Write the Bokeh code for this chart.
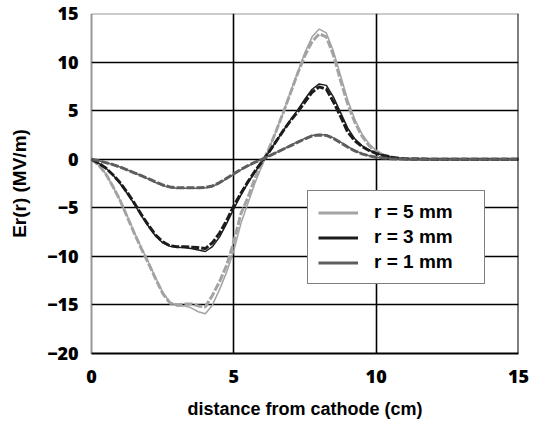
from bokeh.plotting import figure
from bokeh.models import Range1d, FixedTicker, Span, Legend, LegendItem
from bokeh.embed import file_html
from bokeh.resources import INLINE

x = [0, 0.25, 0.5, 0.75, 1.0, 1.25, 1.5, 1.75, 2.0, 2.25, 2.5, 2.75, 3.0, 3.25, 3.5, 3.75,
     4.0, 4.25, 4.5, 4.75, 5.0, 5.25, 5.5, 5.75, 6.0, 6.25, 6.5, 6.75, 7.0, 7.25, 7.5, 7.75,
     8.0, 8.25, 8.5, 8.75, 9.0, 9.25, 9.5, 9.75, 10.0, 10.25, 10.5, 10.75, 11.0, 12.0, 13.0, 14.0, 15.0]

# r = 5 mm
r5_sim = [0, -0.6, -1.5, -2.8, -4.2, -5.9, -7.6, -9.2, -10.7, -12.3, -13.8, -14.8, -15.0, -14.9, -14.9, -15.1,
          -15.2, -14.0, -12.6, -10.9, -8.5, -5.6, -3.9, -1.9, -0.4, 1.2, 3.0, 4.9, 6.9, 8.9, 10.7, 12.1,
          12.9, 12.6, 10.7, 8.1, 5.7, 3.8, 2.4, 1.4, 0.8, 0.45, 0.25, 0.12, 0.05, 0, 0, 0, 0]
r5_thr = [0, -0.6, -1.5, -2.8, -4.2, -5.8, -7.5, -9.1, -10.6, -12.2, -13.7, -14.7, -15.1, -15.1, -15.3, -15.7,
          -15.9, -15.0, -13.4, -11.6, -9.4, -6.6, -4.5, -2.4, -0.6, 1.2, 3.0, 4.9, 7.0, 9.0, 11.0, 12.6,
          13.4, 13.0, 11.1, 8.6, 6.1, 4.1, 2.6, 1.6, 0.9, 0.5, 0.25, 0.12, 0.05, 0, 0, 0, 0]
# r = 3 mm
r3_sim = [0, -0.4, -0.9, -1.6, -2.4, -3.4, -4.5, -5.7, -6.8, -7.8, -8.5, -8.9, -9.0, -9.0, -9.05, -9.1,
          -9.2, -8.6, -7.6, -6.3, -4.8, -3.5, -2.3, -1.2, -0.2, 0.8, 1.9, 3.0, 4.0, 4.9, 5.9, 6.9,
          7.45, 7.2, 5.9, 4.4, 2.8, 1.9, 1.3, 0.9, 0.6, 0.38, 0.22, 0.1, 0.04, 0, 0, 0, 0]
r3_thr = [0, -0.4, -0.9, -1.6, -2.5, -3.5, -4.6, -5.8, -6.9, -7.9, -8.6, -8.95, -9.05, -9.1, -9.2, -9.35,
          -9.5, -9.0, -8.0, -6.6, -5.1, -3.7, -2.4, -1.3, -0.2, 0.8, 1.9, 3.0, 4.1, 5.1, 6.2, 7.2,
          7.75, 7.6, 6.4, 4.8, 3.2, 2.1, 1.4, 0.95, 0.6, 0.38, 0.22, 0.1, 0.04, 0, 0, 0, 0]
# r = 1 mm
r1_sim = [0, -0.15, -0.35, -0.55, -0.8, -1.1, -1.4, -1.7, -2.0, -2.35, -2.65, -2.85, -2.95, -2.95, -2.95, -2.95,
          -2.9, -2.75, -2.4, -1.95, -1.5, -1.05, -0.65, -0.3, 0.0, 0.35, 0.7, 1.05, 1.4, 1.75, 2.1, 2.4,
          2.5, 2.45, 2.15, 1.7, 1.25, 0.85, 0.55, 0.35, 0.2, 0.12, 0.06, 0.03, 0.01, 0, 0, 0, 0]
r1_thr = [0, -0.15, -0.35, -0.55, -0.8, -1.1, -1.4, -1.7, -2.05, -2.4, -2.7, -2.9, -3.0, -3.0, -3.0, -3.0,
          -2.95, -2.8, -2.45, -2.0, -1.55, -1.1, -0.7, -0.3, 0.0, 0.35, 0.7, 1.05, 1.45, 1.8, 2.15, 2.45,
          2.55, 2.5, 2.2, 1.75, 1.3, 0.9, 0.58, 0.36, 0.21, 0.12, 0.06, 0.03, 0.01, 0, 0, 0, 0]

legend_labels = ["r = 5 mm", "r = 3 mm", "r = 1 mm"]
x_ticks = [0, 5, 10, 15]
y_ticks = [-20, -15, -10, -5, 0, 5, 10, 15]

C5 = "#a3a3a3"
C3 = "#1c1c1c"
C1 = "#5e5e5e"
FONT = "Liberation Sans"
TICK_FONT = "Liberation Sans Bold, Arial Bold, Open Sans ExtraBold, Liberation Sans"

p = figure(width=537, height=423, output_backend="svg", toolbar_location=None,
           x_range=Range1d(0, 15), y_range=Range1d(-20, 15),
           min_border_left=91, min_border_right=19, min_border_top=13, min_border_bottom=70)
p.background_fill_color = "white"
p.border_fill_color = "white"
p.outline_line_color = None

xa = p.xaxis[0]
ya = p.yaxis[0]
xa.ticker = FixedTicker(ticks=x_ticks)
ya.ticker = FixedTicker(ticks=y_ticks)
for ax in (xa, ya):
    ax.major_tick_line_color = None
    ax.minor_tick_line_color = None
    ax.major_tick_out = 0
    ax.major_tick_in = 0
    ax.major_label_text_font = TICK_FONT
    ax.major_label_text_font_style = "bold"
    ax.major_label_text_font_size = "18px"
    ax.major_label_text_color = "black"
    ax.axis_label_text_font = FONT
    ax.axis_label_text_font_style = "bold"
    ax.axis_label_text_color = "black"
xa.axis_label_text_font_size = "18px"
ya.axis_label_text_font_size = "19px"
xa.axis_label = "distance from cathode (cm)"
ya.axis_label = "Er(r) (MV/m)"
xa.major_label_standoff = 16
ya.major_label_standoff = 13
xa.axis_label_standoff = 13
ya.axis_label_standoff = 14
xa.axis_line_color = "black"
xa.axis_line_width = 2
ya.axis_line_color = "#333333"
ya.axis_line_width = 2
ya.axis_line_dash = "1 1"

p.xgrid.ticker = FixedTicker(ticks=[5, 10])
p.ygrid.ticker = FixedTicker(ticks=[-15, -10, -5, 0, 5, 10])
p.xgrid.grid_line_color = "black"
p.ygrid.grid_line_color = "black"
p.xgrid.grid_line_width = 1.6
p.ygrid.grid_line_width = 1.6

p.add_layout(Span(location=15, dimension="height", line_color="black", line_width=2))
p.add_layout(Span(location=15, dimension="width", line_color="#333333", line_width=2, line_dash="1 1"))

# curves: thick dashed (simulation) and thin solid (theory)
p.line(x, r5_sim, line_color=C5, line_width=3, line_dash="8 2")
p.line(x, r5_thr, line_color=C5, line_width=1.5)
p.line(x, r3_sim, line_color=C3, line_width=3, line_dash="8 2")
p.line(x, r3_thr, line_color=C3, line_width=1.5)
p.line(x, r1_sim, line_color=C1, line_width=3, line_dash="8 2")
p.line(x, r1_thr, line_color=C1, line_width=1.5)

# legend proxies (solid lines, drawn off-range)
g5 = p.line([-10, -9], [-30, -30], line_color=C5, line_width=3)
g3 = p.line([-10, -9], [-30, -30], line_color=C3, line_width=3)
g1 = p.line([-10, -9], [-30, -30], line_color=C1, line_width=3)

legend = Legend(items=[LegendItem(label=legend_labels[0], renderers=[g5]),
                       LegendItem(label=legend_labels[1], renderers=[g3]),
                       LegendItem(label=legend_labels[2], renderers=[g1])],
                location=(216, 69))
legend.label_text_font = FONT
legend.label_text_font_style = "bold"
legend.label_text_font_size = "19px"
legend.label_text_color = "black"
legend.border_line_color = "black"
legend.border_line_width = 1
legend.background_fill_alpha = 1
legend.glyph_width = 40
legend.glyph_height = 21
legend.label_height = 21
legend.label_width = 100
legend.spacing = 3
legend.padding = 10
legend.margin = 0
legend.label_standoff = 16
p.add_layout(legend, "center")

open("out.html", "w").write(file_html(p, INLINE))
